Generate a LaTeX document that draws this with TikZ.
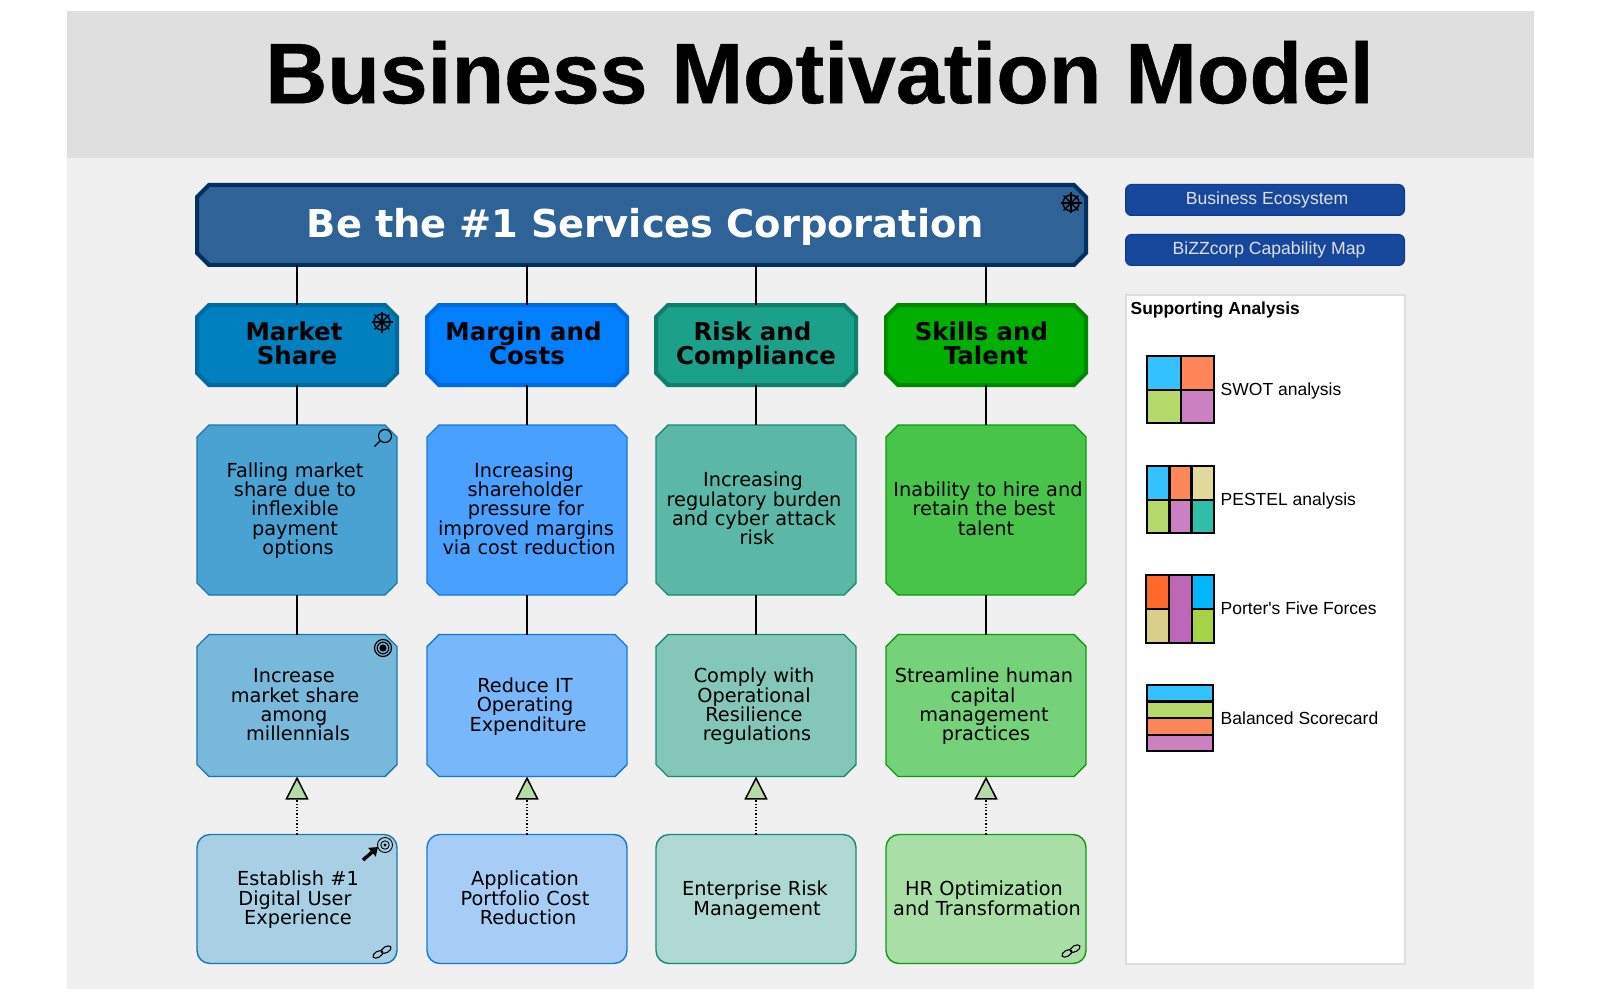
\documentclass[tikz,border=0pt]{standalone}
\usepackage{fontspec}
\setmainfont{Liberation Sans}
\newfontfamily\boxfont{DejaVu Sans}
\newfontfamily\labelfont{Liberation Sans}
\newfontfamily\titlefont[BoldFeatures={FakeBold=0.5}]{Liberation Sans}
\usetikzlibrary{shapes.misc,arrows.meta}
\newcommand\ns[1]{\hspace*{#1pt}}
\definecolor{cmainf}{HTML}{2F6398}\definecolor{cmaind}{HTML}{03305E}
\definecolor{haf}{HTML}{0080BF}\definecolor{had}{HTML}{006A9F}
\definecolor{hbf}{HTML}{0080FF}\definecolor{hbd}{HTML}{0069DD}
\definecolor{hcf}{HTML}{1BA08A}\definecolor{hcd}{HTML}{0F7F6C}
\definecolor{hdf}{HTML}{00B000}\definecolor{hdd}{HTML}{008800}
\definecolor{raf}{HTML}{4AA2D3}\definecolor{rad}{HTML}{1C77AD}
\definecolor{rbf}{HTML}{4AA0FF}\definecolor{rbd}{HTML}{1577DE}
\definecolor{rcf}{HTML}{5BB8A6}\definecolor{rcd}{HTML}{178A73}
\definecolor{rdf}{HTML}{49C44A}\definecolor{rdd}{HTML}{0F9A10}
\definecolor{saf}{HTML}{78B8DA}\definecolor{sbf}{HTML}{78B7FA}
\definecolor{scf}{HTML}{84C7B8}\definecolor{sdf}{HTML}{75D27A}
\definecolor{taf}{HTML}{A8CFE4}\definecolor{tbf}{HTML}{A7CDF7}
\definecolor{tcf}{HTML}{AFD8D2}\definecolor{tdf}{HTML}{A9DFA6}
\definecolor{qblue}{HTML}{33C1FF}\definecolor{qorange}{HTML}{FF8659}
\definecolor{qgreen}{HTML}{B5D96A}\definecolor{qpurple}{HTML}{CB80C2}
\definecolor{qkhaki}{HTML}{E0D99A}\definecolor{qteal}{HTML}{2FBFA8}
\definecolor{porange}{HTML}{FF6A2C}\definecolor{pkhaki}{HTML}{D8D088}
\definecolor{ppurple}{HTML}{BC66B5}\definecolor{pblue}{HTML}{00B7FF}
\definecolor{pgreen}{HTML}{A5D345}
\definecolor{btnf}{HTML}{16479B}\definecolor{btnd}{HTML}{0E3A85}
\definecolor{trifill}{HTML}{B5DCA5}
\tikzset{
 evenlines/.style={execute at begin node={\lineskiplimit=-100pt\relax\strut\rule{0pt}{\dimexpr\ht\strutbox+#1pt\relax}},execute at end node=\strut},
 oct/.style={chamfered rectangle,chamfered rectangle xsep=6pt,chamfered rectangle ysep=6pt,inner ysep=0pt,inner xsep=-6pt,outer sep=0pt,align=center},
 mainbox/.style={oct,evenlines=10,draw=cmaind,fill=cmainf,line width=4pt,minimum width=889pt,minimum height=80pt,text width=880pt,text=white,font=\boxfont\bfseries\fontsize{38.4}{40}\selectfont},
 headbox/.style={oct,evenlines=6,line width=4pt,minimum width=200pt,minimum height=80pt,text=black,text width=196pt,font=\boxfont\bfseries\fontsize{24.5}{24}\selectfont},
 probox/.style={oct,line width=1.4pt,minimum width=200pt,text=black,text width=198pt,font=\boxfont\fontsize{19.3}{19.4}\selectfont},
 prodbox/.style={rectangle,evenlines=5,rounded corners=13pt,inner sep=0pt,outer sep=0pt,align=center,line width=1.4pt,minimum width=200pt,minimum height=129pt,text=black,text width=198pt,font=\boxfont\fontsize{19.3}{19.4}\selectfont},
 rowb/.style={probox,evenlines=4,minimum height=170pt},
 rowc/.style={probox,evenlines=5,minimum height=142pt},
 link/.style={draw=black,line width=1.3pt},
 realize/.style={draw=black,line width=1.3pt,dotted,-{Triangle[length=23pt,width=23pt,fill=trifill,line width=1.5pt]}},
 btn/.style={rectangle,rounded corners=6pt,draw=btnd,fill=btnf,line width=1pt,minimum width=279pt,minimum height=31pt,inner sep=0pt,outer sep=0pt,text=black!12,font=\fontsize{17.6}{20}\selectfont},
 panel/.style={rectangle,draw=black!13,fill=white,line width=2pt,inner sep=0pt,outer sep=0pt,minimum width=279pt,minimum height=669pt},
 lbl/.style={anchor=base west,inner sep=0pt,text=black,font=\labelfont\fontsize{17.5}{20}\selectfont},
 tb/.style={draw=black,line width=2.6pt},
 icon/.style={draw=black,line width=1.2pt},
 helmicon/.pic={
   \draw[line width=1.5pt] (0,0) circle (8pt);
   \fill (0,0) circle (2.8pt);
   \foreach \a in {0,45,...,315}{\draw[line width=1.1pt] (0,0) -- (\a:10.5pt);}
 },
 glass/.pic={
   \draw[icon] (0,0) circle (6.5pt);
   \draw[icon] (-135:6.5pt) -- (-135:15pt);
 },
 bullseye/.pic={
   \draw[icon] (0,0) circle (8.5pt);
   \draw[icon] (0,0) circle (5.8pt);
   \fill (0,0) circle (3.6pt);
 },
 goalarrow/.pic={
   \draw[line width=.9pt] (0,0) circle (7.5pt);
   \draw[line width=.9pt] (0,0) circle (4.2pt);
   \fill (0,0) circle (1.6pt);
   \draw[line width=3.4pt,-{Triangle[length=8pt,width=11pt]}] (-22,15) -- (-7,2);
 },
 chain/.pic={
   \draw[line width=1.1pt,rotate=30] (-4.8,0) ellipse (5.4pt and 3pt);
   \draw[line width=1.1pt,rotate=30] (4.8,0) ellipse (5.4pt and 3pt);
 },
}
\begin{document}
\begin{tikzpicture}[x=1pt,y=-1pt]
\useasboundingbox (0,0) rectangle (1600,1000);
\fill[white] (0,0) rectangle (1600,1000);
\fill[black!6] (67,11) rectangle (1534,989);
\fill[black!12.5] (67,11) rectangle (1534,158);
\node[inner sep=0pt,font=\titlefont\bfseries\fontsize{86}{90}\selectfont] (title) at (819.5,72.5) {Business Motivation Model};

\node[mainbox] (main) at (641.5,225) {\ns{8}Be the \#1 Services Corporation};

\node[headbox,draw=had,fill=haf] (h1) at (297,345) {\ns{-6}Market\\Share};
\node[headbox,draw=hbd,fill=hbf] (h2) at (527,345) {\ns{-7}Margin and\\Costs};
\node[headbox,draw=hcd,fill=hcf] (h3) at (756,345) {\ns{-7}Risk and\\Compliance};
\node[headbox,draw=hdd,fill=hdf] (h4) at (986,345) {\ns{-9}Skills and\\Talent};

\node[rowb,draw=rad,fill=raf] (b1) at (297,510) {\ns{-4}Falling market\\\ns{-4}share due to\\\ns{-4}inflexible\\\ns{-4}payment\\\ns{2}options};
\node[rowb,draw=rbd,fill=rbf] (b2) at (527,510) {\ns{-6}Increasing\\\ns{-4}shareholder\\\ns{-2}pressure for\\\ns{-2}improved margins\\\ns{4}via cost reduction};
\node[rowb,draw=rcd,fill=rcf] (b3) at (756,510) {\ns{-6}Increasing\\\ns{-4}regulatory burden\\\ns{-4}and cyber attack\\\ns{2}risk};
\node[rowb,draw=rdd,fill=rdf] (b4) at (986,510) {\ns{4}Inability to hire and\\\ns{-4}retain the best\\talent};

\node[rowc,draw=rad,fill=saf] (c1) at (297,705.5) {\ns{-6}Increase\\\ns{-4}market share\\\ns{-6}among\\\ns{2}millennials};
\node[rowc,draw=rbd,fill=sbf] (c2) at (527,705.5) {\ns{-4}Reduce IT\\\ns{-4}Operating\\\ns{2}Expenditure};
\node[rowc,draw=rcd,fill=scf] (c3) at (756,705.5) {\ns{-4}Comply with\\\ns{-4}Operational\\\ns{-4}Resilience\\\ns{2}regulations};
\node[rowc,draw=rdd,fill=sdf] (c4) at (986,705.5) {\ns{-4}Streamline human\\\ns{-6}capital\\\ns{-4}management\\practices};

\node[prodbox,draw=rad,fill=taf] (d1) at (297,899) {\ns{2}Establish \#1\\\ns{-4}Digital User\\\ns{2}Experience};
\node[prodbox,draw=rbd,fill=tbf] (d2) at (527,899) {\ns{-4}Application\\\ns{-4}Portfolio Cost\\\ns{2}Reduction};
\node[prodbox,draw=rcd,fill=tcf] (d3) at (756,899) {\ns{-2}Enterprise Risk\\\ns{2}Management};
\node[prodbox,draw=rdd,fill=tdf] (d4) at (986,899) {\ns{-4}HR Optimization\\\ns{2}and Transformation};

\foreach \i in {1,2,3,4}{
  \draw[link] (main.south -| h\i.north) -- (h\i.north);
  \draw[link] (h\i.south) -- (b\i.north);
  \draw[link] (b\i.south) -- (c\i.north);
  \draw[realize] (d\i.north) -- (c\i.south);
}

\pic at (1071,203) {helmicon};
\pic at (382,322) {helmicon};
\pic at (385,436) {glass};
\pic at (383,648) {bullseye};
\pic at (385,845) {goalarrow};
\pic at (382,952) {chain};
\pic at (1071,951) {chain};

\node[btn] (eco) at (1265,200) {\ns{4}\raisebox{-2.5pt}{Business Ecosystem}};
\node[btn] (cap) at (1265,250) {\ns{8}\raisebox{-2.5pt}{BiZZcorp Capability Map}};
\node[panel] (sup) at (1265,629.5) {};
\node[lbl,font=\labelfont\bfseries\fontsize{17.4}{20}\selectfont] (suplab) at (1130.5,314) {Supporting Analysis};

% SWOT
\filldraw[tb,fill=qblue] (1147,356) rectangle (1181,390);
\filldraw[tb,fill=qorange] (1181,356) rectangle (1214,390);
\filldraw[tb,fill=qgreen] (1147,390) rectangle (1181,423);
\filldraw[tb,fill=qpurple] (1181,390) rectangle (1214,423);
\node[lbl] (l1) at (1220.5,395) {SWOT analysis};
% PESTEL
\filldraw[tb,fill=qblue] (1147,466) rectangle (1169.3,500);
\filldraw[tb,fill=qorange] (1169.3,466) rectangle (1191.6,500);
\filldraw[tb,fill=qkhaki] (1191.6,466) rectangle (1214,500);
\filldraw[tb,fill=qgreen] (1147,500) rectangle (1169.3,533);
\filldraw[tb,fill=qpurple] (1169.3,500) rectangle (1191.6,533);
\filldraw[tb,fill=qteal] (1191.6,500) rectangle (1214,533);
\node[lbl] (l2) at (1220.5,505) {PESTEL analysis};
% Porter
\filldraw[tb,fill=porange] (1146,575) rectangle (1169,609);
\filldraw[tb,fill=pkhaki] (1146,609) rectangle (1169,643);
\filldraw[tb,fill=ppurple] (1169,575) rectangle (1192,643);
\filldraw[tb,fill=pblue] (1192,575) rectangle (1214,609);
\filldraw[tb,fill=pgreen] (1192,609) rectangle (1214,643);
\node[lbl] (l3) at (1220.5,614.5) {Porter's Five Forces};
% Balanced
\filldraw[tb,fill=qblue] (1147,685) rectangle (1213,701.5);
\filldraw[tb,fill=qgreen] (1147,701.5) rectangle (1213,718);
\filldraw[tb,fill=qorange] (1147,718) rectangle (1213,735);
\filldraw[tb,fill=qpurple] (1147,735) rectangle (1213,751);
\node[lbl] (l4) at (1220.5,724) {Balanced Scorecard};
\end{tikzpicture}
\end{document}
